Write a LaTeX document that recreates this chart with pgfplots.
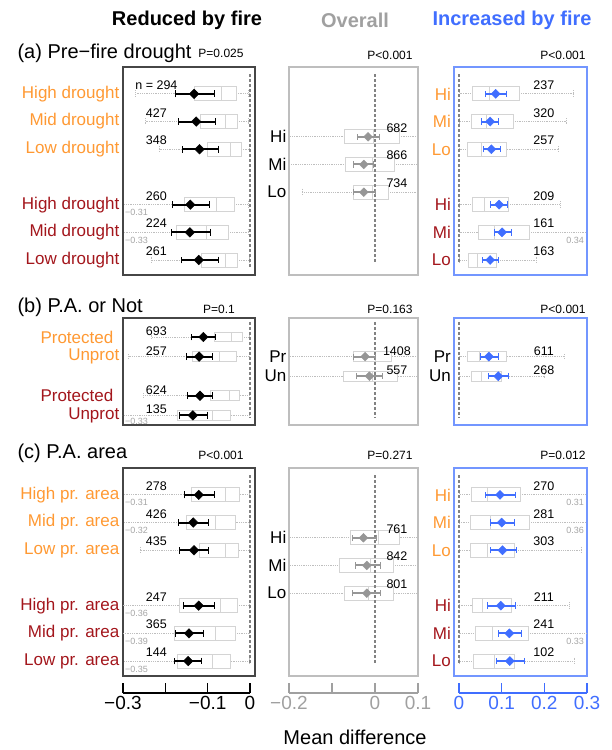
\documentclass[border=0pt]{standalone}
\usepackage{fontspec}
\setmainfont{Liberation Sans}
\usepackage{pgfplots}
\pgfplotsset{compat=1.18}
\usepackage{pgfplotstable}
\usepgfplotslibrary{statistics}

\definecolor{orgC}{RGB}{255,153,51}
\definecolor{redC}{RGB}{163,22,28}
\definecolor{blueC}{RGB}{64,110,255}
\definecolor{blueF}{RGB}{115,150,255}
\definecolor{grayT}{RGB}{160,160,160}
\definecolor{grayD}{RGB}{150,150,150}
\definecolor{frameL}{RGB}{70,70,70}
\definecolor{frameM}{RGB}{190,190,190}
\definecolor{boxC}{RGB}{212,212,212}
\definecolor{whiskC}{RGB}{190,190,190}
\definecolor{zeroC}{RGB}{130,130,130}
\definecolor{outC}{RGB}{165,165,165}

\newcommand\nn[1]{n = #1}
\newcommand\lab{\fontsize{17}{19}\selectfont}
\newcommand\nfont{\fontsize{12.5}{14}\selectfont}
\newcommand\pfont{\fontsize{12}{14}\selectfont}
\newcommand\secfont{\fontsize{20}{24}\selectfont}
\newcommand\ofont{\fontsize{9}{10}\selectfont}
\newcommand\tfont{\fontsize{19}{21}\selectfont}

% y wlo qlo med qhi whi mean cilo cihi n
\pgfplotstableread{
y wlo qlo med qhi whi mean cilo cihi n
1 -0.270 -0.130 -0.067 -0.033 -0.003 -0.132 -0.177 -0.085 \nn{294}
2 -0.246 -0.118 -0.059 -0.030 -0.003 -0.127 -0.169 -0.083 427
3 -0.215 -0.101 -0.046 -0.021 -0.001 -0.119 -0.161 -0.075 348
5 -0.310 -0.155 -0.079 -0.037 -0.003 -0.141 -0.184 -0.096 260
6 -0.330 -0.173 -0.102 -0.051 -0.003 -0.142 -0.187 -0.095 224
7 -0.234 -0.114 -0.057 -0.030 -0.001 -0.121 -0.163 -0.076 261
}\LA
\pgfplotstableread{
y wlo qlo med qhi whi mean cilo cihi n
2.55 -0.25 -0.070 -0.003 0.056 0.15 -0.016 -0.041 0.010 682
3.55 -0.25 -0.068 -0.006 0.045 0.15 -0.026 -0.050 -0.004 866
4.55 -0.170 -0.050 -0.006 0.031 0.15 -0.026 -0.050 0.000 734
}\MA
\pgfplotstableread{
y wlo qlo med qhi whi mean cilo cihi n
1 0.002 0.032 0.071 0.141 0.268 0.086 0.061 0.110 237
2 0.002 0.030 0.065 0.127 0.251 0.073 0.053 0.092 320
3 0.002 0.020 0.053 0.112 0.233 0.076 0.057 0.096 257
5 0.002 0.032 0.059 0.116 0.237 0.094 0.074 0.113 209
6 0.002 0.045 0.083 0.165 0.340 0.101 0.082 0.123 161
7 0.002 0.022 0.043 0.088 0.182 0.073 0.055 0.092 163
}\RA
\pgfplotstableread{
y wlo qlo med qhi whi mean cilo cihi n
1 -0.232 -0.085 -0.043 -0.018 -0.002 -0.110 -0.138 -0.083 693
2 -0.288 -0.136 -0.073 -0.031 -0.002 -0.120 -0.150 -0.088 257
4 -0.252 -0.093 -0.049 -0.024 -0.002 -0.118 -0.148 -0.088 624
5 -0.330 -0.172 -0.088 -0.045 -0.002 -0.135 -0.168 -0.102 135
}\LB
\pgfplotstableread{
y wlo qlo med qhi whi mean cilo cihi n
2 -0.25 -0.050 0.002 0.039 0.15 -0.023 -0.050 0.000 1408
3 -0.25 -0.074 -0.005 0.053 0.15 -0.013 -0.044 0.016 557
}\MB
\pgfplotstableread{
y wlo qlo med qhi whi mean cilo cihi n
2 0.002 0.020 0.049 0.112 0.247 0.070 0.049 0.092 611
3 0.002 0.030 0.052 0.100 0.201 0.092 0.069 0.115 268
}\RB
\pgfplotstableread{
y wlo qlo med qhi whi mean cilo cihi n
1 -0.310 -0.139 -0.059 -0.024 -0.002 -0.121 -0.155 -0.084 278
2 -0.320 -0.151 -0.081 -0.034 -0.002 -0.134 -0.169 -0.099 426
3 -0.258 -0.120 -0.057 -0.026 -0.002 -0.132 -0.167 -0.099 435
5 -0.360 -0.167 -0.069 -0.030 -0.002 -0.121 -0.158 -0.085 247
6 -0.390 -0.179 -0.081 -0.035 -0.002 -0.144 -0.177 -0.110 365
7 -0.350 -0.172 -0.089 -0.045 -0.002 -0.146 -0.180 -0.114 144
}\LC
\pgfplotstableread{
y wlo qlo med qhi whi mean cilo cihi n
2.55 -0.25 -0.057 0.008 0.057 0.15 -0.027 -0.054 0.002 761
3.55 -0.25 -0.083 -0.010 0.043 0.15 -0.019 -0.047 0.012 842
4.55 -0.25 -0.070 -0.016 0.044 0.15 -0.019 -0.052 0.013 801
}\MC
\pgfplotstableread{
y wlo qlo med qhi whi mean cilo cihi n
1 0.002 0.030 0.066 0.143 0.310 0.096 0.061 0.131 270
2 0.002 0.027 0.074 0.165 0.360 0.100 0.073 0.129 281
3 0.002 0.026 0.067 0.130 0.287 0.102 0.073 0.133 303
5 0.002 0.031 0.055 0.123 0.258 0.098 0.067 0.131 211
6 0.002 0.039 0.078 0.162 0.330 0.118 0.092 0.145 241
7 0.002 0.034 0.084 0.130 0.270 0.119 0.087 0.152 102
}\RC

\newcommand\boxesfrom[1]{%
  \pgfplotstablegetrowsof{#1}%
  \pgfmathtruncatemacro\lastrow{\pgfplotsretval-1}%
  \pgfplotsforeachungrouped \rowi in {0,...,\lastrow}{%
    \pgfplotstablegetelem{\rowi}{y}\of{#1}\let\by\pgfplotsretval
    \pgfplotstablegetelem{\rowi}{wlo}\of{#1}\let\bwl\pgfplotsretval
    \pgfplotstablegetelem{\rowi}{qlo}\of{#1}\let\bql\pgfplotsretval
    \pgfplotstablegetelem{\rowi}{med}\of{#1}\let\bmd\pgfplotsretval
    \pgfplotstablegetelem{\rowi}{qhi}\of{#1}\let\bqh\pgfplotsretval
    \pgfplotstablegetelem{\rowi}{whi}\of{#1}\let\bwh\pgfplotsretval
    \edef\doplot{\noexpand\addplot[draw=boxC, boxplot prepared={draw position=\by, lower whisker=\bwl, lower quartile=\bql, median=\bmd, upper quartile=\bqh, upper whisker=\bwh}] coordinates {};}%
    \doplot
  }%
}

\tikzset{
  outlab/.style={font=\ofont, text=outC, inner sep=0pt, anchor=west, xshift=2pt, yshift=-8pt},
  outlabR/.style={font=\ofont, text=outC, inner sep=0pt, anchor=east, xshift=-3pt, yshift=-8pt},
}

\pgfplotsset{
 panel/.style={scale only axis, y dir=reverse, xtick=\empty, major tick length=0pt,
   ytick style={draw=none}, clip=true,
   boxplot/draw direction=x, boxplot/box extend=0.5, boxplot/whisker extend=0.25,
   boxplot/every box/.style={draw=boxC, fill=white, line width=0.9pt},
   boxplot/every whisker/.style={draw=whiskC, densely dotted, line width=0.8pt},
   boxplot/every median/.style={draw=boxC, line width=0.9pt},
   yticklabel style={font=\lab}},
 rowA/.style={height=208pt, ymin=0.03, ymax=7.54},
 rowB/.style={height=107pt, ymin=0.03, ymax=5.49},
 colL/.style={width=132pt, xmin=-0.3, xmax=0.012, axis line style={draw=frameL, line width=1.1pt}, yticklabel style={inner xsep=3.5pt}},
 colM/.style={width=129pt, xmin=-0.2, xmax=0.1, axis line style={draw=frameM, line width=1.3pt}, yticklabel style={inner xsep=2.5pt}},
 colR/.style={width=133pt, xmin=-0.0117, xmax=0.3, axis line style={draw=blueF, line width=1.3pt}, yticklabel style={inner xsep=3pt}},
 zero/.style={draw=zeroC, line width=2pt, dash pattern=on 3pt off 2pt},
 meanbase/.style={only marks, mark=square*, error bars/x dir=both, error bars/x explicit},
 meanL/.style={meanbase, mark size=3.4pt, mark options={rotate=45, draw=black, fill=black}, error bars/error bar style={line width=2pt, black}},
 meanM/.style={meanbase, mark size=3.1pt, mark options={rotate=45, draw=grayD, fill=grayD}, error bars/error bar style={line width=2pt, grayD}},
 meanR/.style={meanbase, mark size=3.2pt, mark options={rotate=45, draw=blueC, fill=blueC}, error bars/error bar style={line width=2pt, blueC}},
 nlab/.style={mark=none, draw=none, nodes near coords={\pgfplotspointmeta}, point meta=explicit symbolic, nodes near coords style={anchor=base, font=\nfont, text=black}},
 btm/.style={anchor=south west, scale only axis, height=10pt, ymin=0, ymax=1, axis y line=none, axis x line*=bottom, tick align=inside, major tick length=10pt, xticklabel style={font=\tfont}},
}

\newcommand\meanci[2]{\addplot[#1] table[x=mean, y=y, x error plus expr=\thisrow{cihi}-\thisrow{mean}, x error minus expr=\thisrow{mean}-\thisrow{cilo}] {#2};}

\begin{document}
\begin{tikzpicture}
\useasboundingbox (0,0) rectangle (611pt,750pt);

% ---------- Row (a)
\begin{axis}[panel, rowA, colL, at={(123pt,683pt)}, anchor=north west,
  ytick={1,2,3,5,6,7},
  yticklabels={\textcolor{orgC}{High drought},\textcolor{orgC}{Mid drought},\textcolor{orgC}{Low drought},\textcolor{redC}{High drought},\textcolor{redC}{Mid drought},\textcolor{redC}{Low drought}}]
\boxesfrom{\LA}
\addplot[zero] coordinates {(0,0.3) (0,7.3)};
\meanci{meanL}{\LA}
\addplot[nlab, nodes near coords style={yshift=4.5pt}] table[x expr=-0.221, y=y, meta=n] {\LA};
\node[outlab] at (axis cs:-0.3,5) {−0.31};
\node[outlab] at (axis cs:-0.3,6) {−0.33};
\end{axis}

\begin{axis}[panel, rowA, colM, at={(289pt,683pt)}, anchor=north west,
  ytick={2.55,3.55,4.55}, yticklabels={Hi,Mi,Lo}]
\boxesfrom{\MA}
\addplot[zero] coordinates {(0,0.3) (0,7.07)};
\meanci{meanM}{\MA}
\addplot[nlab, nodes near coords style={yshift=4.5pt}] table[x expr=0.051, y=y, meta=n] {\MA};
\end{axis}

\begin{axis}[panel, rowA, colR, at={(454pt,683pt)}, anchor=north west,
  ytick={1,2,3,5,6,7},
  yticklabels={\textcolor{orgC}{Hi},\textcolor{orgC}{Mi},\textcolor{orgC}{Lo},\textcolor{redC}{Hi},\textcolor{redC}{Mi},\textcolor{redC}{Lo}}]
\boxesfrom{\RA}
\addplot[zero] coordinates {(0,0.3) (0,7.07)};
\meanci{meanR}{\RA}
\addplot[nlab, nodes near coords style={yshift=4.5pt}] table[x expr=0.199, y=y, meta=n] {\RA};
\node[outlabR] at (axis cs:0.3,6) {0.34};
\end{axis}

% ---------- Row (b)
\begin{axis}[panel, rowB, colL, at={(123pt,432pt)}, anchor=north west,
  ytick={1,2,4,5},
  yticklabels={\textcolor{orgC}{Protected\hspace*{6pt}},\textcolor{orgC}{Unprot},\textcolor{redC}{Protected\hspace*{6pt}},\textcolor{redC}{Unprot}}]
\boxesfrom{\LB}
\addplot[zero] coordinates {(0,0.23) (0,5.08)};
\meanci{meanL}{\LB}
\addplot[nlab, nodes near coords style={yshift=1.5pt}] table[x expr=-0.221, y=y, meta=n] {\LB};
\node[outlab, yshift=2pt] at (axis cs:-0.3,5) {−0.33};
\end{axis}

\begin{axis}[panel, rowB, colM, at={(289pt,432pt)}, anchor=north west,
  ytick={2,3}, yticklabels={Pr,Un}]
\boxesfrom{\MB}
\addplot[zero] coordinates {(0,0.23) (0,5.08)};
\meanci{meanM}{\MB}
\addplot[nlab, nodes near coords style={yshift=1.5pt}] table[x expr=0.051, y=y, meta=n] {\MB};
\end{axis}

\begin{axis}[panel, rowB, colR, at={(454pt,432pt)}, anchor=north west,
  ytick={2,3}, yticklabels={Pr,Un}]
\boxesfrom{\RB}
\addplot[zero] coordinates {(0,0.23) (0,5.08)};
\meanci{meanR}{\RB}
\addplot[nlab, nodes near coords style={yshift=1.5pt}] table[x expr=0.199, y=y, meta=n] {\RB};
\end{axis}

% ---------- Row (c)
\begin{axis}[panel, rowA, colL, at={(123pt,282pt)}, anchor=north west,
  ytick={1,2,3,5,6,7},
  yticklabels={\textcolor{orgC}{High pr. area},\textcolor{orgC}{Mid pr. area},\textcolor{orgC}{Low pr. area},\textcolor{redC}{High pr. area},\textcolor{redC}{Mid pr. area},\textcolor{redC}{Low pr. area}}]
\boxesfrom{\LC}
\addplot[zero] coordinates {(0,0.3) (0,7.07)};
\meanci{meanL}{\LC}
\addplot[nlab, nodes near coords style={yshift=4.5pt}] table[x expr=-0.221, y=y, meta=n] {\LC};
\node[outlab] at (axis cs:-0.3,1) {−0.31};
\node[outlab] at (axis cs:-0.3,2) {−0.32};
\node[outlab] at (axis cs:-0.3,5) {−0.36};
\node[outlab] at (axis cs:-0.3,6) {−0.39};
\node[outlab] at (axis cs:-0.3,7) {−0.35};
\end{axis}

\begin{axis}[panel, rowA, colM, at={(289pt,282pt)}, anchor=north west,
  ytick={2.55,3.55,4.55}, yticklabels={Hi,Mi,Lo}]
\boxesfrom{\MC}
\addplot[zero] coordinates {(0,0.3) (0,7.07)};
\meanci{meanM}{\MC}
\addplot[nlab, nodes near coords style={yshift=4.5pt}] table[x expr=0.051, y=y, meta=n] {\MC};
\end{axis}

\begin{axis}[panel, rowA, colR, at={(454pt,282pt)}, anchor=north west,
  ytick={1,2,3,5,6,7},
  yticklabels={\textcolor{orgC}{Hi},\textcolor{orgC}{Mi},\textcolor{orgC}{Lo},\textcolor{redC}{Hi},\textcolor{redC}{Mi},\textcolor{redC}{Lo}}]
\boxesfrom{\RC}
\addplot[zero] coordinates {(0,0.3) (0,7.07)};
\meanci{meanR}{\RC}
\addplot[nlab, nodes near coords style={yshift=4.5pt}] table[x expr=0.199, y=y, meta=n] {\RC};
\node[outlabR] at (axis cs:0.3,1) {0.31};
\node[outlabR] at (axis cs:0.3,2) {0.36};
\node[outlabR] at (axis cs:0.3,6) {0.33};
\end{axis}

% ---------- bottom axes
\begin{axis}[btm, at={(123pt,57pt)}, width=127pt, xmin=-0.3, xmax=0,
  xtick={-0.3,-0.2,-0.1,0}, xticklabels={−0.3,,−0.1,0},
  x axis line style={line width=1.3pt, black}, xtick style={line width=1.3pt, black}, xticklabel style={text=black}]
\end{axis}
\begin{axis}[btm, at={(289pt,57pt)}, width=129pt, xmin=-0.2, xmax=0.1,
  xtick={-0.2,-0.1,0,0.1}, xticklabels={−0.2,,0,0.1},
  x axis line style={line width=1.3pt, grayT}, xtick style={line width=1.3pt, grayT}, xticklabel style={text=grayT}]
\end{axis}
\begin{axis}[btm, at={(459pt,57pt)}, width=128pt, xmin=0, xmax=0.3,
  xtick={0,0.1,0.2,0.3}, xticklabels={0,0.1,0.2,0.3},
  x axis line style={line width=1.3pt, blueC}, xtick style={line width=1.3pt, blueC}, xticklabel style={text=blueC}]
\end{axis}

% ---------- titles and labels
\node[font=\secfont\bfseries] at (187pt,730pt) {Reduced by fire};
\node[font=\secfont\bfseries, text=grayT] at (355pt,730pt) {Overall};
\node[font=\secfont\bfseries, text=blueC] at (512pt,730pt) {Increased by fire};

\node[font=\secfont, anchor=west] at (14pt,697pt) {(a) Pre−fire drought};
\node[font=\secfont, anchor=west] at (14pt,443pt) {(b) P.A. or Not};
\node[font=\secfont, anchor=west] at (14pt,297pt) {(c) P.A. area};

\node[font=\pfont] at (221pt,697pt) {P=0.025};
\node[font=\pfont] at (390pt,695pt) {P<0.001};
\node[font=\pfont] at (563pt,695pt) {P<0.001};
\node[font=\pfont] at (219pt,441pt) {P=0.1};
\node[font=\pfont] at (390pt,441pt) {P=0.163};
\node[font=\pfont] at (563pt,441pt) {P<0.001};
\node[font=\pfont] at (221pt,295pt) {P<0.001};
\node[font=\pfont] at (390pt,295pt) {P=0.271};
\node[font=\pfont] at (563pt,295pt) {P=0.012};

\node[font=\secfont] at (355pt,13pt) {Mean difference};
\end{tikzpicture}
\end{document}
